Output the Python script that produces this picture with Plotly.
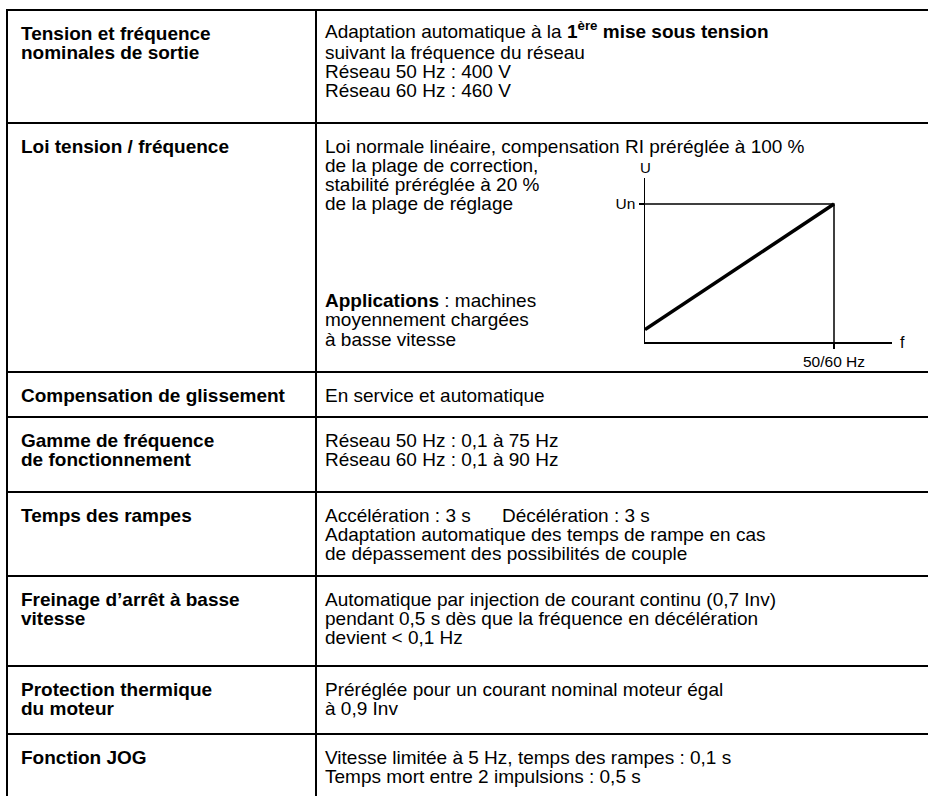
import plotly.graph_objects as go

# ---------------- data ----------------
row_labels = [
    ["Tension et fréquence", "nominales de sortie"],
    ["Loi tension / fréquence"],
    ["Compensation de glissement"],
    ["Gamme de fréquence", "de fonctionnement"],
    ["Temps des rampes"],
    ["Freinage d’arrêt à basse", "vitesse"],
    ["Protection thermique", "du moteur"],
    ["Fonction JOG"],
]
row_texts = [
    ["Adaptation automatique à la <b>1<sup>ère</sup> mise sous tension</b>",
     "suivant la fréquence du réseau",
     "Réseau 50 Hz : 400 V",
     "Réseau 60 Hz : 460 V"],
    ["Loi normale linéaire, compensation RI préréglée à 100 %",
     "de la plage de correction,",
     "stabilité préréglée à 20 %",
     "de la plage de réglage",
     "", "", "", "",
     "<b>Applications</b> : machines",
     "moyennement chargées",
     "à basse vitesse"],
    ["En service et automatique"],
    ["Réseau 50 Hz : 0,1 à 75 Hz",
     "Réseau 60 Hz : 0,1 à 90 Hz"],
    ["Accélération : 3 s",
     "Adaptation automatique des temps de rampe en cas",
     "de dépassement des possibilités de couple"],
    ["Automatique par injection de courant continu (0,7 Inv)",
     "pendant 0,5 s dès que la fréquence en décélération",
     "devient < 0,1 Hz"],
    ["Préréglée pour un courant nominal moteur égal",
     "à 0,9 Inv"],
    ["Vitesse limitée à 5 Hz, temps des rampes : 0,1 s",
     "Temps mort entre 2 impulsions : 0,5 s"],
]
ramp_decel_text = "Décélération : 3 s"

# U/f law diagram
vf_freq = [0, 1]
vf_voltage = [0.09, 1]
nominal_freq = 1
nominal_voltage = 1
x_tick_label = "50/60 Hz"
y_tick_label = "Un"
x_axis_name = "f"
y_axis_name = "U"

# ---------------- layout constants ----------------
W, H = 928, 796
FONT = "Liberation Sans, Arial, Helvetica, sans-serif"
FS = 19
row_edges = [10, 123, 372, 417, 492, 576, 666, 734]
x_left, x_div, x_right = 7, 316, 928
x_lab, x_txt = 19, 323
first_off, step = 23, 19.3
decel_x = 500

fig = go.Figure()

shapes = []
for yb in row_edges:
    shapes.append(dict(type="line", xref="x", yref="y", x0=x_left, x1=x_right, y0=yb, y1=yb,
                       line=dict(color="black", width=2)))
for xv in (x_left, x_div):
    shapes.append(dict(type="line", xref="x", yref="y", x0=xv, x1=xv, y0=row_edges[0] - 1, y1=H,
                       line=dict(color="black", width=2)))

def txt(x, y, t, bold=False, yshift=0):
    return dict(xref="x", yref="y", x=x, y=y, text=("<b>%s</b>" % t) if bold else t,
                xanchor="left", yanchor="middle", showarrow=False, yshift=yshift,
                font=dict(family=FONT, size=FS, color="black"))

ann = []
for i, top in enumerate(row_edges):
    for j, t in enumerate(row_labels[i]):
        ann.append(txt(x_lab, top + first_off + step * j, t, bold=True))
    for j, t in enumerate(row_texts[i]):
        if not t:
            continue
        ann.append(txt(x_txt, top + first_off + step * j, t, yshift=3 if "<sup>" in t else 0))
ann.append(txt(decel_x, row_edges[4] + first_off, ramp_decel_text))

# diagram labels
ann.append(dict(xref="x2", yref="y2 domain", x=0, y=1, text=y_axis_name, xanchor="center", yanchor="bottom",
                showarrow=False, font=dict(family=FONT, size=15, color="black")))
ann.append(dict(xref="x2 domain", yref="y2", x=1, y=0, text=x_axis_name, xanchor="left", yanchor="middle",
                xshift=6, showarrow=False, font=dict(family=FONT, size=16, color="black")))

fig.add_trace(go.Scatter(x=[0, nominal_freq, nominal_freq], y=[nominal_voltage, nominal_voltage, 0],
                         mode="lines", line=dict(color="black", width=1.5), xaxis="x2", yaxis="y2",
                         cliponaxis=False, hoverinfo="skip", showlegend=False))
fig.add_trace(go.Scatter(x=vf_freq, y=vf_voltage, mode="lines", line=dict(color="black", width=3.5),
                         xaxis="x2", yaxis="y2", cliponaxis=False, hoverinfo="skip", showlegend=False))

ax_x0, ax_x1, ax_y0, ax_y1 = 645, 892, 342, 178
px_per_x = 189.0
px_per_y = 138.0

fig.update_layout(
    width=W, height=H, margin=dict(l=0, r=0, t=0, b=0),
    paper_bgcolor="white", plot_bgcolor="rgba(0,0,0,0)",
    showlegend=False,
    xaxis=dict(range=[0, W], domain=[0, 1], visible=False, fixedrange=True),
    yaxis=dict(range=[H, 0], domain=[0, 1], visible=False, fixedrange=True),
    xaxis2=dict(domain=[ax_x0 / W, ax_x1 / W], range=[0, (ax_x1 - ax_x0) / px_per_x], anchor="y2",
                showline=True, linecolor="black", linewidth=1.5, showgrid=False, zeroline=False,
                tickvals=[nominal_freq], ticktext=[x_tick_label], ticks="outside", ticklen=5,
                tickwidth=1.5, tickcolor="black",
                tickfont=dict(family=FONT, size=15.5, color="black"), fixedrange=True),
    yaxis2=dict(domain=[1 - ax_y0 / H, 1 - ax_y1 / H], range=[0, (ax_y0 - ax_y1) / px_per_y], anchor="x2",
                showline=True, linecolor="black", linewidth=1.5, showgrid=False, zeroline=False,
                tickvals=[nominal_voltage], ticktext=[y_tick_label], ticks="outside", ticklen=5,
                tickwidth=1.5, tickcolor="black",
                tickfont=dict(family=FONT, size=15.5, color="black"), fixedrange=True),
    shapes=shapes,
    annotations=ann,
)

fig.write_html("out.html", config={"displayModeBar": False, "staticPlot": True},
               post_script="document.body.style.margin='0';document.body.style.overflow='hidden';")
